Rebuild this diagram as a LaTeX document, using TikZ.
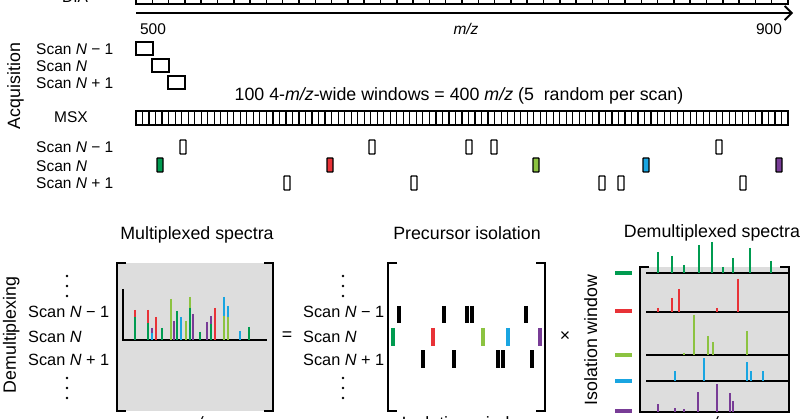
\documentclass[tikz,border=0pt]{standalone}
\usepackage{fontspec}
\setmainfont{Liberation Sans}
\usepackage{tikz}
\usetikzlibrary{arrows.meta}

\definecolor{mxgreen}{RGB}{0,155,80}
\definecolor{mxred}{RGB}{232,50,55}
\definecolor{mxlime}{RGB}{140,195,65}
\definecolor{mxblue}{RGB}{25,165,225}
\definecolor{mxpurple}{RGB}{120,60,150}
\definecolor{mxgray}{RGB}{221,221,221}

\tikzset{
	lbl/.style={font=\fontsize{15.5}{18}\selectfont, inner sep=0pt},
	big/.style={font=\fontsize{17.8}{20}\selectfont, inner sep=0pt},
	scn/.style={font=\fontsize{16.3}{19}\selectfont, inner sep=0pt},
	cell/.style={line width=1.5pt},
	win/.style={line width=1.4pt, rounded corners=0.6pt},
	brk/.style={line width=2.2pt},
	pk/.style={line width=2pt},
	iso/.style={line width=3.2pt},
	base/.style={line width=1.5pt},
}

\begin{document}
\begin{tikzpicture}[x=1pt, y=-1pt]
	\useasboundingbox (0,0) rectangle (800,419);
	\clip (0,0) rectangle (800,419);
	
	% acquisition
	\node[big, rotate=90, anchor=base] (acq) at (20,86) {Acquisition};
	\node[lbl, anchor=base] (dia) at (75,2.5) {DIA};
	\foreach \x in {0,...,39}
	\draw[cell] (136+\x*16.3,-12) rectangle ++(16.3,16);
	\coordinate (axs) at (136,13);
	\coordinate (axe) at (793,13);
	\draw[line width=1.8pt, -{Straight Barb[length=7pt, width=14pt]}] (axs) -- (axe);
	\node[lbl, anchor=base] (lo) at (153,35) {500};
	\node[lbl, anchor=base] (mz) at (466,35) {\textit{m/z}};
	\node[lbl, anchor=base] (hi) at (769,35) {900};
	
	\foreach \y/\t [count=\i] in {55/{Scan \textit{N} − 1}, 72/{Scan \textit{N}}, 89/{Scan \textit{N} + 1}}
	\node[lbl, anchor=base west] (sa\i) at (36,\y) {\t};
	\draw[cell] (136,42) rectangle (153,55);
	\draw[cell] (152,59) rectangle (169,72);
	\draw[cell] (168,76) rectangle (185,89);
	
	\node[big, anchor=base] (note) at (459,101) {100 4-\textit{m/z}-wide windows = 400 \textit{m/z} (5\ \ random per scan)};
	\node[lbl, anchor=base] (msx) at (71,123) {MSX};
	\foreach \x in {0,...,99}
	\draw[line width=1.2pt] (136+\x*6.52,111) rectangle ++(6.52,14);
	
	\foreach \y/\t [count=\i] in {153/{Scan \textit{N} − 1}, 172/{Scan \textit{N}}, 189/{Scan \textit{N} + 1}}
	\node[lbl, anchor=base west] (sb\i) at (36,\y) {\t};
	\foreach \x in {183,372,469,494,719}
	\draw[win] (\x-3,140) rectangle ++(6,14);
	\foreach \x/\c in {160/mxgreen,330/mxred,536/mxlime,646/mxblue,779/mxpurple}
	\draw[win, fill=\c] (\x-3,158) rectangle ++(6,14);
	\foreach \x in {287,414,602,621,743}
	\draw[win] (\x-3,176) rectangle ++(6,14);
	
	% demultiplexing
	\node[big, rotate=90, anchor=base] (demux) at (16,335) {Demultiplexing};
	
	\node[big, anchor=base] (tA) at (197,240) {Multiplexed spectra};
	\foreach \y/\t [count=\i] in {318/{Scan \textit{N} − 1}, 342/{Scan \textit{N}}, 366/{Scan \textit{N} + 1}}
	\node[scn, anchor=base west] (sc\i) at (28,\y) {\t};
	\foreach \y in {276,286,296,378,388,398}
	\fill (67,\y) circle (1.3);
	\fill[mxgray] (117,263) rectangle (273,411);
	\draw[brk] (126,263) -- (117,263) -- (117,411) -- (126,411);
	\draw[brk] (264,263) -- (273,263) -- (273,411) -- (264,411);
	\draw[base] (123,289) -- (123,340) -- (267,340);
	\foreach \x/\a/\b/\c in {135/310/317/mxred, 135/317/340/mxgreen, 148/310/323/mxred, 148/323/340/mxgreen,
		152/328/333/mxpurple, 152/333/340/mxblue, 156/317/340/mxred, 162/328/340/mxgreen,
		171/299/340/mxlime, 174/321/340/mxpurple, 177/311/340/mxgreen, 181/317/340/mxblue,
		186/321/340/mxlime, 190/297/308/mxlime, 190/308/340/mxgreen, 193/314/340/mxpurple,
		200/332/340/mxgreen, 207/322/340/mxpurple, 211/316/324/mxpurple, 211/324/340/mxgreen,
		215/308/340/mxred, 224/297/316/mxblue, 224/316/340/mxlime, 228/306/317/mxblue,
		228/317/340/mxlime, 240/331/340/mxblue, 249/327/340/mxgreen}
	\draw[pk, \c] (\x,\a) -- (\x,\b);
	\node[big] (eq) at (287,336) {=};
	\node[big, anchor=north] (mzA) at (197,416) {\textit{m/z}};
	
	\node[big, anchor=base] (tB) at (467,240) {Precursor isolation};
	\foreach \y/\t [count=\i] in {318/{Scan \textit{N} − 1}, 343/{Scan \textit{N}}, 366/{Scan \textit{N} + 1}}
	\node[scn, anchor=base west] (sd\i) at (303,\y) {\t};
	\foreach \y in {276,286,296,378,388,398}
	\fill (343,\y) circle (1.3);
	\draw[brk] (397,263) -- (388,263) -- (388,411) -- (397,411);
	\draw[brk] (536,263) -- (545,263) -- (545,411) -- (536,411);
	\foreach \x in {399,444,467,472,526}
	\draw[iso] (\x,306) -- (\x,323);
	\foreach \x/\c in {393/mxgreen,433/mxred,483/mxlime,508/mxblue,540/mxpurple}
	\draw[iso, \c] (\x,328) -- (\x,346);
	\foreach \x in {423,454,498,503,532}
	\draw[iso] (\x,350) -- (\x,368);
	\node[big] (times) at (565,337) {×};
	\node[big, anchor=north] (isoA) at (467,416) {Isolation window};
	
	\node[big, anchor=base] (tC) at (712,238) {Demultiplexed spectra};
	\node[big, rotate=90, anchor=base] (isow) at (597,340) {Isolation window};
	\foreach \y/\c in {273/mxgreen,311/mxred,355/mxlime,381/mxblue,411/mxpurple}
	\draw[line width=3.5pt, \c] (615,\y) -- (632,\y);
	\fill[mxgray] (640,267) rectangle (789,412);
	\draw[brk] (649,267) -- (640,267) -- (640,412) -- (649,412);
	\draw[brk] (780,267) -- (789,267) -- (789,412) -- (780,412);
	\foreach \y in {273,312,355,381,412}
	\draw[base] (646,\y) -- (789,\y);
	\foreach \x/\a in {658/252,672/256,684/265,699/245,712/242,723/267,733/258,750/248,771/261}
	\draw[pk, mxgreen] (\x,\a) -- (\x,273);
	\foreach \x/\a in {658/308,672/298,679/289,717/308,738/279}
	\draw[pk, mxred] (\x,\a) -- (\x,312);
	\foreach \x/\a in {684/353,694/315,708/336,713/342,747/331}
	\draw[pk, mxlime] (\x,\a) -- (\x,355);
	\foreach \x/\a in {675/371,704/358,747/362,751/371,763/371}
	\draw[pk, mxblue] (\x,\a) -- (\x,381);
	\foreach \x/\a in {658/404,675/408,684/409,698/392,717/384,730/393,733/401}
	\draw[pk, mxpurple] (\x,\a) -- (\x,412);
	\node[big, anchor=north] (mzB) at (712,416) {\textit{m/z}};
\end{tikzpicture}
\end{document}
